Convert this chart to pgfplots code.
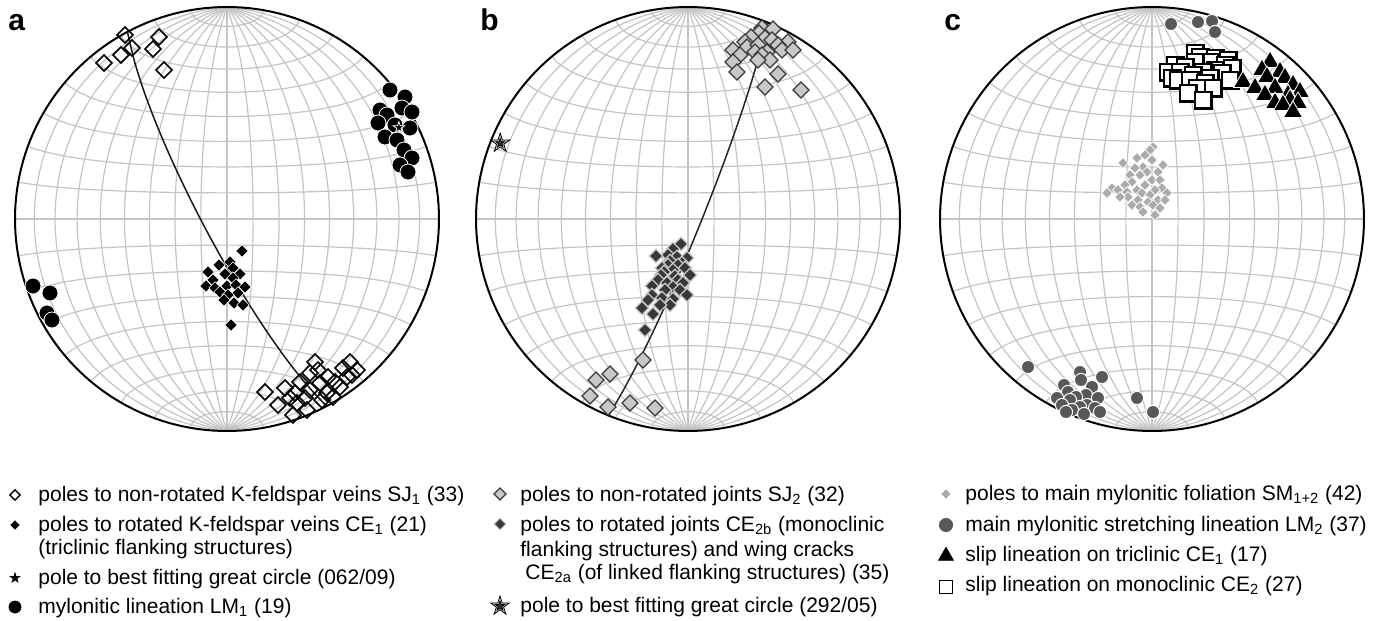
\documentclass[border=0pt]{standalone}
\usepackage{fontspec}
\setmainfont{Liberation Sans}
\usepackage{pgfplots}
\usepackage{pgfplotstable}
\pgfplotsset{compat=1.18}
\definecolor{gridgray}{HTML}{C4C4C4}
\definecolor{lgray}{HTML}{C8C8C8}
\definecolor{dgray}{HTML}{383838}
\definecolor{sgray}{HTML}{ABABAB}
\definecolor{cgray}{HTML}{585858}
\pgfdeclareplotmark{fstar}{%
 \pgfpathmoveto{\pgfqpoint{0pt}{\pgfplotmarksize}}%
 \pgfpathlineto{\pgfqpoint{-0.2245\pgfplotmarksize}{0.3090\pgfplotmarksize}}%
 \pgfpathlineto{\pgfqpoint{-0.9511\pgfplotmarksize}{0.3090\pgfplotmarksize}}%
 \pgfpathlineto{\pgfqpoint{-0.3633\pgfplotmarksize}{-0.1180\pgfplotmarksize}}%
 \pgfpathlineto{\pgfqpoint{-0.5878\pgfplotmarksize}{-0.8090\pgfplotmarksize}}%
 \pgfpathlineto{\pgfqpoint{0pt}{-0.382\pgfplotmarksize}}%
 \pgfpathlineto{\pgfqpoint{0.5878\pgfplotmarksize}{-0.8090\pgfplotmarksize}}%
 \pgfpathlineto{\pgfqpoint{0.3633\pgfplotmarksize}{-0.1180\pgfplotmarksize}}%
 \pgfpathlineto{\pgfqpoint{0.9511\pgfplotmarksize}{0.3090\pgfplotmarksize}}%
 \pgfpathlineto{\pgfqpoint{0.2245\pgfplotmarksize}{0.3090\pgfplotmarksize}}%
 \pgfpathclose
 \pgfusepathqfillstroke}
\pgfplotsset{
 gridline/.style={color=gridgray, line width=0.6pt, forget plot},
 table/px/.style 2 args={x expr=(\thisrow{x}-#1)/212, y expr=(#2-\thisrow{y})/212},
 net/.style={hide axis, scale only axis, width=212pt, height=212pt,
   xmin=-1, xmax=1, ymin=-1, ymax=1, clip=false, anchor=center},
}
\newcommand\stereonet{%
 \pgfplotsinvokeforeach{-80,-70,...,80}{%
  \addplot[gridline, domain=-90:90, samples=73, variable=\t]
   ({cos(\t)*sin(##1)/sqrt(1+cos(\t)*cos(##1))}, {sin(\t)/sqrt(1+cos(\t)*cos(##1))});
  \addplot[gridline, domain=-90:90, samples=73, variable=\t]
   ({cos(##1)*sin(\t)/sqrt(1+cos(##1)*cos(\t))}, {sin(##1)/sqrt(1+cos(##1)*cos(\t))});
 }%
 \addplot[black, line width=1pt, domain=0:360, samples=181, variable=\t, forget plot]
  ({cos(\t)},{sin(\t)});
}
\newcommand\legfont{\fontsize{10.5}{12}\selectfont}
\newcommand\lt[3]{\node[anchor=base west, inner sep=0pt, font=\legfont] at (#1*0.5pt,-#2*0.5pt) {#3};}
\begin{document}
\begin{tikzpicture}
\useasboundingbox (0,0) rectangle (691pt,-310.5pt);
\node[anchor=base west, font=\bfseries\fontsize{15}{15}\selectfont, inner sep=0pt] at (4pt,-15.5pt) {a};
\node[anchor=base west, font=\bfseries\fontsize{15}{15}\selectfont, inner sep=0pt] at (240pt,-15.5pt) {b};
\node[anchor=base west, font=\bfseries\fontsize{15}{15}\selectfont, inner sep=0pt] at (472pt,-15.5pt) {c};
% ---------------- a ----------------
\begin{axis}[net, at={(113.5pt,-109.5pt)}]
\stereonet
\addplot[forget plot, smooth, color=black!90, line width=0.75pt] coordinates {
(-0.4695,0.8829) (-0.4366,0.7441) (-0.3892,0.5955) (-0.3297,0.4392) (-0.2602,0.2774)
(-0.1823,0.1127) (-0.0980,-0.0521) (-0.0085,-0.2142) (0.0846,-0.3708) (0.1798,-0.5189)
(0.2761,-0.6556) (0.3729,-0.7780) (0.4695,-0.8829)};
\addplot[forget plot, only marks, mark=square, mark size=2.8pt, mark options={rotate=45, fill=white, draw=black, line width=0.8pt}]
 table[px={227}{219}] {
x y
125 35
159 37
132 48
153 49
121 55
104 63
164 70
315 362
350 362
343 368
357 370
352 375
310 373
318 370
328 377
347 377
300 382
320 383
335 382
340 387
265 392
285 388
310 390
327 393
295 393
333 397
290 398
305 398
322 400
278 405
297 403
307 410
293 415
};
\addplot[forget plot, only marks, mark=square*, mark size=2.2pt, mark options={rotate=45, fill=black, draw=white, line width=0.3pt}]
 table[px={227}{219}] {
x y
242 251
230 262
219 265
233 268
208 272
225 274
240 274
213 280
233 278
206 286
227 286
236 285
215 288
245 287
220 292
238 293
228 295
224 300
234 303
243 305
231 325
};
\addplot[forget plot, only marks, mark=*, mark size=4pt, mark options={fill=black, draw=white, line width=0.4pt}]
 table[px={227}{219}] {
x y
390 90
405 97
402 108
380 110
412 112
387 115
378 123
395 125
410 128
385 137
397 140
404 150
412 158
400 165
408 172
33 286
50 293
47 313
52 320
};
\addplot[forget plot, only marks, mark=fstar, mark size=3pt, mark options={fill=black, draw=white, line width=0.4pt}]
 coordinates {(0.811,0.431)};
\end{axis}
% ---------------- b ----------------
\begin{axis}[net, at={(344pt,-109.5pt)}]
\stereonet
\addplot[forget plot, smooth, color=black!85, line width=0.75pt] coordinates {
(0.3746,0.9272) (0.3412,0.7910) (0.2980,0.6427) (0.2466,0.4845) (0.1885,0.3189)
(0.1249,0.1488) (0.0572,-0.0231) (-0.0135,-0.1939) (-0.0859,-0.3604) (-0.1592,-0.5199)
(-0.2320,-0.6694) (-0.3040,-0.8061) (-0.3746,-0.9272)};
\addplot[forget plot, only marks, mark=square*, mark size=2.8pt, mark options={rotate=45, fill=lgray, draw=dgray, line width=0.6pt}]
 table[px={688}{219}] {
x y
762 28
773 29
759 33
765 38
751 37
772 40
788 42
745 42
778 45
747 47
758 45
782 50
793 50
733 50
755 52
767 52
762 55
740 55
770 60
733 62
758 60
737 72
778 74
765 87
801 90
643 360
610 374
596 380
590 396
630 403
608 407
655 408
};
\addplot[forget plot, only marks, mark=square*, mark size=2.4pt, mark options={rotate=45, fill=dgray, draw=lgray, line width=0.6pt}]
 table[px={688}{219}] {
x y
681 244
673 249
668 255
677 257
687 258
656 256
670 261
682 263
668 265
678 265
662 268
685 268
673 270
664 272
690 275
675 276
661 275
678 280
658 280
667 283
683 283
652 286
673 287
665 290
680 290
652 295
662 298
673 299
687 295
648 300
670 305
660 305
642 308
653 314
645 330
};
\addplot[forget plot, only marks, mark=fstar, mark size=5pt, mark options={fill=gray!35, draw=none}]
 coordinates {(-0.8859,0.3579)};
\addplot[forget plot, only marks, mark=fstar, mark size=2.3pt, mark options={fill=dgray, draw=none}]
 coordinates {(-0.8859,0.3579)};
\end{axis}
% ---------------- c ----------------
\begin{axis}[net, at={(576pt,-109.5pt)}]
\stereonet
\addplot[forget plot, only marks, mark=square*, mark size=1.9pt, mark options={rotate=45, fill=sgray, draw=white, line width=0.3pt}]
 table[px={1152}{219}] {
x y
1153 147
1150 150
1145 155
1137 158
1152 160
1123 163
1143 167
1135 168
1163 165
1147 172
1140 175
1130 175
1158 172
1132 182
1152 180
1160 180
1125 185
1145 185
1162 188
1112 188
1137 190
1155 190
1118 190
1127 192
1142 193
1167 193
1107 193
1150 195
1128 197
1120 197
1148 202
1158 200
1138 200
1165 200
1132 205
1153 205
1140 207
1160 208
1143 212
1155 215
};
\addplot[forget plot, only marks, mark=*, mark size=3.3pt, mark options={fill=cgray, draw=white, line width=0.5pt}]
 table[px={1152}{219}] {
x y
1171 24
1198 22
1212 21
1215 32
1028 367
1080 372
1102 377
1081 380
1064 385
1092 387
1068 392
1086 395
1098 398
1076 397
1057 398
1070 400
1087 405
1062 405
1080 407
1095 408
1137 398
1153 412
1072 410
1066 412
1084 414
1100 412
};
\addplot[forget plot, only marks, mark=square*, mark size=4.2pt, mark options={fill=white, draw=black, line width=1.1pt}]
 table[px={1152}{219}] {
x y
1195 53
1200 57
1215 58
1228 60
1210 62
1195 62
1225 65
1175 65
1185 67
1232 68
1215 70
1168 72
1203 72
1180 72
1222 73
1193 75
1210 78
1172 78
1178 80
1190 80
1230 80
1205 83
1197 88
1213 88
1188 93
1203 100
};
\addplot[forget plot, only marks, mark=triangle*, mark size=5.5pt, mark options={fill=black, draw=white, line width=0.4pt}]
 table[px={1152}{219}] {
x y
1270 62
1262 70
1280 72
1267 77
1285 78
1243 82
1293 85
1255 88
1275 88
1300 92
1288 95
1265 95
1290 100
1275 103
1298 103
1283 105
1293 112
};
\end{axis}
% ---------------- legend keys (pixel coordinates) ----------------
\begin{axis}[at={(0pt,0pt)}, anchor=north west, hide axis, scale only axis,
  width=691pt, height=310.5pt, xmin=0, xmax=1382, ymin=0, ymax=621, y dir=reverse, clip=false]
\addplot[only marks, mark=square, mark size=1.8pt, mark options={rotate=45, fill=white, draw=black, line width=0.7pt}] coordinates {(15,495)};
\addplot[only marks, mark=square*, mark size=1.4pt, mark options={rotate=45, fill=black, draw=black}] coordinates {(15,525)};
\addplot[only marks, mark=fstar, mark size=2.4pt, mark options={fill=black, draw=black}] coordinates {(15,578)};
\addplot[only marks, mark=*, mark size=3pt, mark options={fill=black, draw=black}] coordinates {(15,607)};
\addplot[only marks, mark=square*, mark size=2.1pt, mark options={rotate=45, fill=lgray, draw=dgray, line width=0.6pt}] coordinates {(500,494)};
\addplot[only marks, mark=square*, mark size=2.1pt, mark options={rotate=45, fill=dgray, draw=lgray, line width=0.5pt}] coordinates {(500,524)};
\addplot[only marks, mark=fstar, mark size=5pt, mark options={fill=gray!35, draw=none}] coordinates {(500,606)};
\addplot[only marks, mark=fstar, mark size=2.4pt, mark options={fill=dgray, draw=none}] coordinates {(500,606)};
\addplot[only marks, mark=square*, mark size=1.4pt, mark options={rotate=45, fill=sgray, draw=sgray}] coordinates {(946,494)};
\addplot[only marks, mark=*, mark size=3.3pt, mark options={fill=cgray, draw=cgray}] coordinates {(946,525)};
\addplot[only marks, mark=triangle*, mark size=4.3pt, mark options={fill=black, draw=black}] coordinates {(946,556)};
\addplot[only marks, mark=square, mark size=3.2pt, mark options={fill=white, draw=black, line width=0.8pt}] coordinates {(946,587)};
\end{axis}
% ---------------- legend texts ----------------
\lt{38}{501}{poles to non-rotated K-feldspar veins SJ\textsubscript{1} (33)}
\lt{38}{531}{poles to rotated K-feldspar veins CE\textsubscript{1} (21)}
\lt{38}{554}{(triclinic flanking structures)}
\lt{38}{584}{pole to best fitting great circle (062/09)}
\lt{38}{613}{mylonitic lineation LM\textsubscript{1} (19)}
\lt{520}{501}{poles to non-rotated joints SJ\textsubscript{2} (32)}
\lt{520}{531}{poles to rotated joints CE\textsubscript{2b} (monoclinic}
\lt{520}{556}{flanking structures) and wing cracks}
\lt{525}{579}{CE\textsubscript{2a} (of linked flanking structures) (35)}
\lt{520}{612}{pole to best fitting great circle (292/05)}
\lt{965}{500}{poles to main mylonitic foliation SM\textsubscript{1+2} (42)}
\lt{965}{531}{main mylonitic stretching lineation LM\textsubscript{2} (37)}
\lt{965}{561}{slip lineation on triclinic CE\textsubscript{1} (17)}
\lt{965}{591}{slip lineation on monoclinic CE\textsubscript{2} (27)}
\end{tikzpicture}
\end{document}
